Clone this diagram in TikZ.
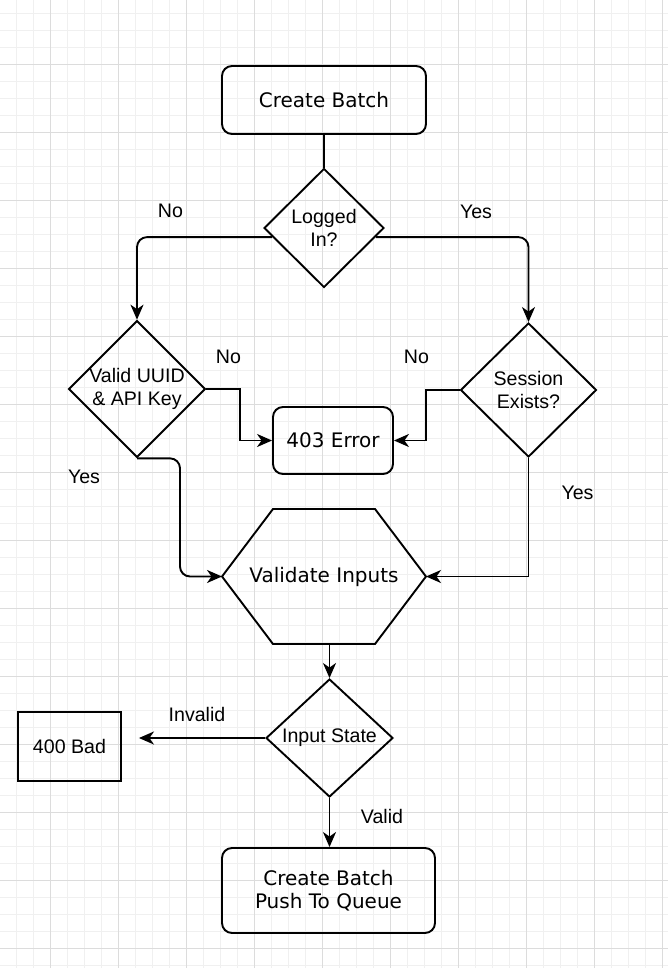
\documentclass[tikz,border=0pt]{standalone}
\usepackage{fontspec}
\setmainfont{Liberation Sans}
\newfontfamily\verdana{DejaVu Sans}
\usepackage{tikz}
\usetikzlibrary{shapes.geometric,arrows.meta}
\definecolor{gridminor}{HTML}{F0F0F0}
\definecolor{gridmajor}{HTML}{DCDCDC}

\begin{document}
\begin{tikzpicture}[x=1pt, y=-1pt, line width=1.9pt,
  font=\fontsize{19.6}{23}\selectfont,
  box/.style={draw, rounded corners=10pt, align=center, inner sep=0pt,
    font=\verdana\fontsize{20}{23}\selectfont},
  decision/.style={draw, diamond, aspect=1, align=center, inner sep=0pt},
  plain/.style={draw, rectangle, align=center, inner sep=0pt},
  lab/.style={anchor=base, inner sep=0pt},
  conn/.style={-{Stealth[length=15pt,width=13pt,inset=4.5pt]}},
  minorline/.style={draw=gridminor, line width=0.8pt},
  majorline/.style={draw=gridmajor, line width=0.8pt}
  ]
  \useasboundingbox (0,0) rectangle (668,968);
  \foreach \gx in {16,33,...,668} \draw[minorline] (\gx,0) -- (\gx,968);
  \foreach \gy in {13,30,...,968} \draw[minorline] (0,\gy) -- (668,\gy);
  \foreach \gx in {50,118,...,668} \draw[majorline] (\gx,0) -- (\gx,968);
  \foreach \gy in {64,132,...,968} \draw[majorline] (0,\gy) -- (668,\gy);

  \node[box, minimum width=204pt, minimum height=68pt] (create) at (324,100) {Create Batch};
  \node[decision, minimum width=120pt, minimum height=119pt] (logged) at (324,228) {Logged\\In?};
  \node[decision, minimum width=136pt, minimum height=135pt] (uuid) at (137,389) {Valid UUID\\\& API Key};
  \node[decision, minimum width=136pt, minimum height=134pt] (session) at (528.5,390) {Session\\Exists?};
  \node[box, minimum width=120pt, minimum height=67pt] (err) at (333,440.5) {403 Error};
  \node[box, draw=none, outer sep=0pt, minimum width=204pt, minimum height=135pt] (hex) at (324,576.5) {Validate Inputs};
  \draw (hex.west) -- ([xshift=51pt]hex.north west) -- ([xshift=-51pt]hex.north east) -- (hex.east)
    -- ([xshift=-51pt]hex.south east) -- ([xshift=51pt]hex.south west) -- cycle;
  \node[decision, minimum width=127pt, minimum height=118pt] (input) at (329.5,738) {Input State};
  \node[plain, minimum width=103pt, minimum height=69pt] (bad) at (69.5,746.5) {400 Bad};
  \node[box, minimum width=213pt, minimum height=85pt] (push) at (328.5,890.5) {Create Batch\\Push To Queue};
  \coordinate (badtip) at ([xshift=17pt]bad.east);

  \draw (create.south) -- (logged.north);
  \draw[conn, rounded corners=10pt] (logged.190) -| (uuid.north);
  \draw[conn, rounded corners=10pt] (logged.-10) -| (session.north);
  \draw[conn] (uuid.east) -- ++(34,0) |- (err.west);
  \draw[conn] (session.west) -- ++(-34,0) |- (err.east);
  \draw[conn, rounded corners=10pt] (uuid.south) -- ++(43,0) |- (hex.west);
  \draw[conn] (session.south) |- (hex.east);
  \draw[conn] (hex.south -| input.north) -- (input.north);
  \draw[conn] (input.west) -- (input.west -| badtip);
  \draw[conn] (input.south) -- (input.south |- push.north);

  \node[lab] (nolog) at (170.5,218) {No};
  \node[lab] (yeslog) at (476,219) {Yes};
  \node[lab] (nouuid) at (228.5,363) {No};
  \node[lab] (nosession) at (416.5,363) {No};
  \node[lab] (yesuuid) at (84,483) {Yes};
  \node[lab] (yessession) at (577.5,499) {Yes};
  \node[lab] (invalid) at (197,721) {Invalid};
  \node[lab] (valid) at (382,823) {Valid};
\end{tikzpicture}
\end{document}
